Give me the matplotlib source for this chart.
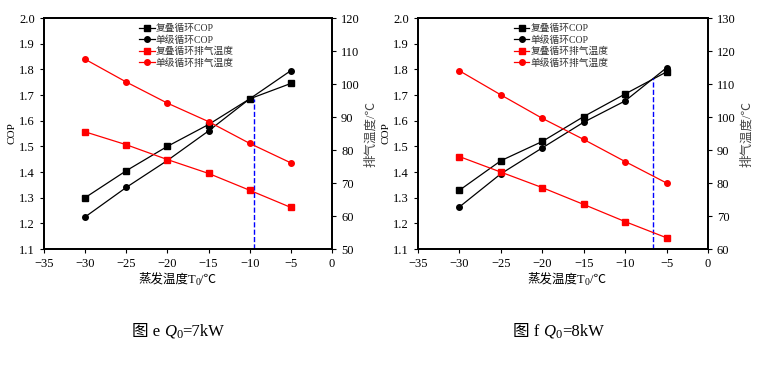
import numpy as np
import matplotlib
matplotlib.use('Agg')
import matplotlib.pyplot as plt

plt.rcParams['font.family'] = ['Liberation Serif', 'Noto Sans CJK SC']

# evaporating temperature
t_evap = [-30, -25, -20, -15, -10, -5]

# Q0 = 7kW
cop_casc_7 = [1.300, 1.405, 1.500, 1.585, 1.685, 1.745]
cop_single_7 = [1.225, 1.340, 1.445, 1.560, 1.685, 1.795]
tdis_casc_7 = [85.5, 81.6, 77.1, 72.9, 67.8, 62.6]
tdis_single_7 = [107.5, 100.6, 94.2, 88.6, 82.0, 76.1]
cross_7 = (-9.5, 1.685)

# Q0 = 8kW
cop_casc_8 = [1.329, 1.444, 1.519, 1.616, 1.704, 1.790]
cop_single_8 = [1.264, 1.393, 1.494, 1.594, 1.677, 1.806]
tdis_casc_8 = [88.0, 83.3, 78.6, 73.5, 68.3, 63.4]
tdis_single_8 = [114.0, 106.7, 99.6, 93.2, 86.5, 80.0]
cross_8 = (-6.65, 1.767)

labels = ['复叠循环COP', '单级循环COP', '复叠循环排气温度', '单级循环排气温度']

fig = plt.figure(figsize=(7.69, 3.69), dpi=100)

#text pieces placed left to right (for subscripts without mathtext)
def chain_text(x, y, pieces):
    r = fig.canvas.get_renderer()
    cx = x
    for s, kw in pieces:
        dy = kw.pop('dy', 0)
        t = fig.text(cx, y + dy / 369, s, va='baseline', ha='left', **kw)
        w = t.get_window_extent(renderer=r).width
        cx += w / 769

def panel(rect, cop_c, cop_s, td_c, td_s, cross, tlim):
    ax = fig.add_axes(rect)
    ax2 = ax.twinx()
    l1, = ax.plot(t_evap, cop_c, '-s', color='black', lw=0.9, ms=4)
    l2, = ax.plot(t_evap, cop_s, '-o', color='black', lw=0.9, ms=4)
    l3, = ax2.plot(t_evap, td_c, '-s', color='red', lw=0.9, ms=4)
    l4, = ax2.plot(t_evap, td_s, '-o', color='red', lw=0.9, ms=4)
    ax.plot([cross[0], cross[0]], [1.1, cross[1]], '--', color='blue', lw=1.0)

    ax.set_xlim(-35, 0)
    ax.set_ylim(1.1, 2.0)
    ax2.set_ylim(*tlim)
    ax.set_xticks(np.arange(-35, 1, 5))
    ax.set_yticks(np.arange(1.1, 2.01, 0.1))
    ax.set_yticklabels(['%.1f' % v for v in np.arange(1.1, 2.01, 0.1)])
    ax2.set_yticks(np.arange(tlim[0], tlim[1] + 1, 10))
    for a in (ax, ax2):
        a.tick_params(labelsize=9, length=3, width=0.8)
        for s in a.spines.values():
            s.set_linewidth(1.3)

    ax.set_ylabel('COP', fontsize=8, labelpad=2)
    ax2.set_ylabel('排气温度/℃', fontsize=9, labelpad=4, color='#444444')

    leg = ax.legend([l1, l2, l3, l4], labels, loc='upper left',
                    bbox_to_anchor=(0.31, 1.0), frameon=False, fontsize=7,
                    handlelength=1.6, handletextpad=0.1, labelspacing=0.2,
                    borderaxespad=0.2)
    for t in leg.get_texts():
        t.set_color('#333333')

panel([0.0572, 0.3252, 0.3745, 0.626], cop_casc_7, cop_single_7,
      tdis_casc_7, tdis_single_7, cross_7, (50, 120))
panel([0.5436, 0.3252, 0.377, 0.626], cop_casc_8, cop_single_8,
      tdis_casc_8, tdis_single_8, cross_8, (60, 130))

# x labels
for x0 in (138 / 769, 527 / 769):
    chain_text(x0, 1 - 283 / 369, [('蒸发温度T', dict(fontsize=9)),
                                   ('0', dict(fontsize=7, dy=-2)),
                                   ('/℃', dict(fontsize=9))])

# captions
for x0, txt in ((132 / 769, ('图 e ', '=7kW')), (513 / 769, ('图 f ', '=8kW'))):
    chain_text(x0, 1 - 336 / 369, [(txt[0], dict(fontsize=12)),
                                   ('Q', dict(fontsize=12, style='italic')),
                                   ('0', dict(fontsize=9, dy=-2)),
                                   (txt[1], dict(fontsize=12))])

fig.savefig('out.png', dpi=100)
